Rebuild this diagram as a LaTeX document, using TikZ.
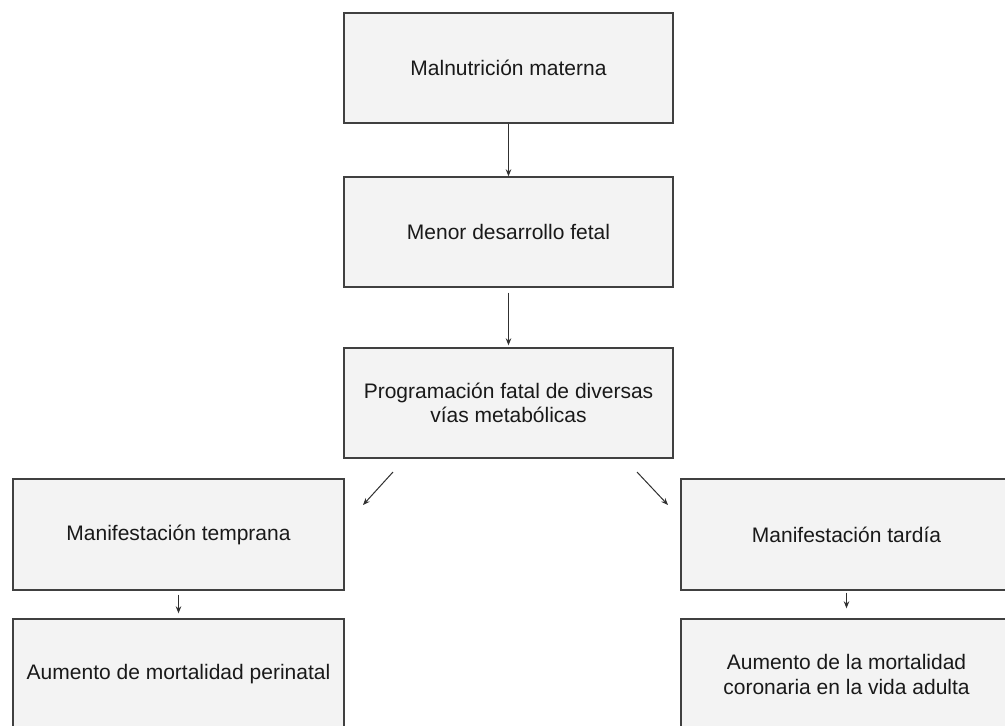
\documentclass[tikz,border=0pt]{standalone}
\usepackage{fontspec}
\setmainfont{Liberation Sans}
\usetikzlibrary{arrows.meta}
\definecolor{boxfill}{HTML}{F3F3F3}
\definecolor{boxline}{HTML}{404040}
\definecolor{arrline}{HTML}{303030}
\tikzset{
  box/.style={draw=boxline, line width=1.4pt, fill=boxfill, rectangle, inner sep=0pt,
    align=center, font=\fontsize{21}{24.5}\selectfont, text=black!90},
  arr/.style={draw=arrline, line width=1pt, -{Stealth[length=7pt,width=5.5pt]}}
}
\begin{document}
\begin{tikzpicture}[x=1pt,y=-1pt]
\useasboundingbox (0,0) rectangle (1005,726);
\clip (0,0) rectangle (1005,726);
\node[box, minimum width=329pt, minimum height=110pt] (b1) at (508.5,68) {Malnutrición materna};
\node[box, minimum width=329pt, minimum height=110pt] (b2) at (508.5,232) {Menor desarrollo fetal};
\node[box, minimum width=329pt, minimum height=110pt] (b3) at (508.5,403) {Programación fatal de diversas\\vías metabólicas};
\node[box, minimum width=331pt, minimum height=111pt] (l1) at (178.5,534.5) {Manifestación temprana};
\node[box, minimum width=331pt, minimum height=111pt] (l2) at (178.5,674.5) {Aumento de mortalidad perinatal};
\node[box, minimum width=331pt, minimum height=111pt] (r1) at (846.5,534.5) {Manifestación tardía};
\node[box, minimum width=331pt, minimum height=111pt] (r2) at (846.5,674.5) {Aumento de la mortalidad\\coronaria en la vida adulta};
\coordinate (la) at (393,472);
\coordinate (lb) at (363,505);
\coordinate (ra) at (637,472);
\coordinate (rb) at (668,505);
\draw[arr] (b1.south) -- (b2.north);
\draw[arr, shorten <=5pt, shorten >=2pt] (b2.south) -- (b3.north);
\draw[arr] (la) -- (lb);
\draw[arr] (ra) -- (rb);
\draw[arr, shorten <=4pt, shorten >=5pt] (l1.south) -- (l2.north);
\draw[arr, shorten <=2pt, shorten >=10pt] (r1.south) -- (r2.north);
\end{tikzpicture}
\end{document}
